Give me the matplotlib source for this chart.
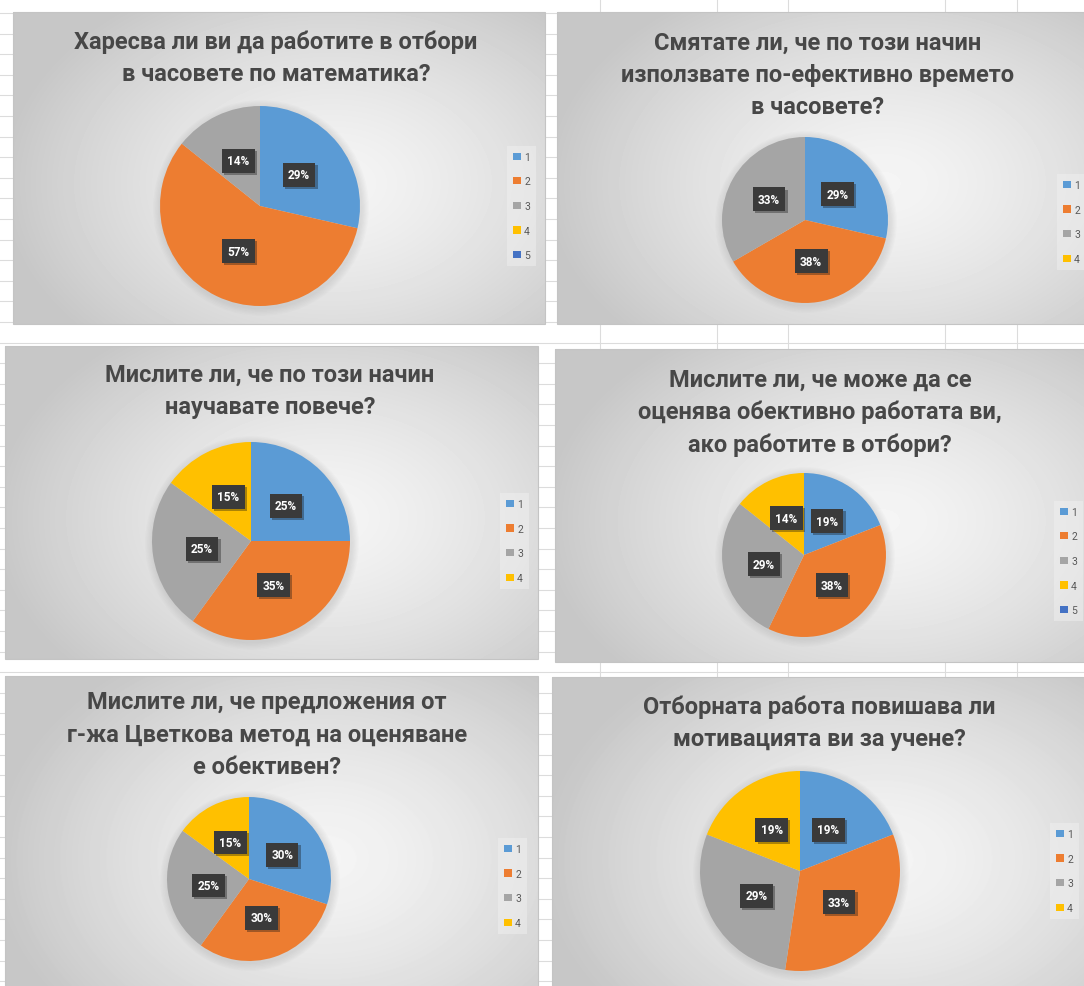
# -*- coding: utf-8 -*-
"""Six Excel-style pie charts with survey results (team work in maths lessons)."""
import numpy as np
import matplotlib
matplotlib.use("Agg")
import matplotlib.pyplot as plt
import matplotlib.patheffects as pe
from matplotlib.patches import Rectangle, Circle

W, H = 1084, 987
plt.rcParams['font.family'] = ['Roboto', 'DejaVu Sans']

### Data: number of answers per option
titles = [
    "Харесва ли ви да работите в отбори\nв часовете по математика?",
    "Смятате ли, че по този начин\nизползвате по-ефективно времето\nв часовете?",
    "Мислите ли, че по този начин\nнаучавате повече?",
    "Мислите ли, че може да се\nоценява обективно работата ви,\nако работите в отбори?",
    "Мислите ли, че предложения от\nг-жа Цветкова метод на оценяване\nе обективен?",
    "Отборната работа повишава ли\nмотивацията ви за учене?",
]
q1_counts = [6, 12, 3, 0, 0]
q2_counts = [6, 8, 7, 0]
q3_counts = [5, 7, 5, 3]
q4_counts = [4, 8, 6, 3, 0]
q5_counts = [6, 6, 5, 3]
q6_counts = [4, 7, 6, 4]
options = ["1", "2", "3", "4", "5"]

colors = ["#5B9BD5", "#ED7D31", "#A5A5A5", "#FFC000", "#4472C4"]
title_color = "#474747"

### Layout in screen pixels (x, y from top-left)
layout = [
    dict(box=(13, 13, 545, 325), pie=(260, 207, 100), title=(276, 42), leg=(507, 207)),
    dict(box=(557, 13, 1100, 325), pie=(805, 221, 83), title=(818, 43), leg=(1057, 223)),
    dict(box=(5, 347, 538, 660), pie=(251, 542, 99), title=(270, 375), leg=(500, 542)),
    dict(box=(555, 350, 1100, 663), pie=(804, 556, 82), title=(820, 380), leg=(1054, 562)),
    dict(box=(5, 677, 538, 1010), pie=(249, 880, 82), title=(267, 703), leg=(498, 887)),
    dict(box=(552, 678, 1100, 1010), pie=(800, 872, 100), title=(819, 707), leg=(1050, 872)),
]
all_counts = [q1_counts, q2_counts, q3_counts, q4_counts, q5_counts, q6_counts]


def fx(x):
    return x / W


def fy(y):
    return 1 - y / H


def gradient(w, h):
    xx, yy = np.meshgrid(np.linspace(0, 1, int(w)), np.linspace(0, 1, int(h)))
    d = np.sqrt(((xx - 0.6) / 0.62) ** 2 + ((yy - 0.55) / 0.72) ** 2)
    return 0.96 - 0.18 * np.clip(d, 0, 1) ** 1.4


def pct_label(p):
    return f"{p:.0f}%" if p > 0.5 else ""


fig = plt.figure(figsize=(W / 100, H / 100), dpi=100)
fig.patch.set_facecolor("white")

# spreadsheet grid behind the charts
bg = fig.add_axes([0, 0, 1, 1])
bg.set_axis_off()
for y in np.arange(14, H, 20.6):
    bg.axhline(y, color="#dcdcdc", lw=0.8, zorder=0)
for x in [600, 717, 788, 945, 1017]:
    bg.axvline(x, color="#dcdcdc", lw=0.8, zorder=0)

for spec, counts, title in zip(layout, all_counts, titles):
    x0, y0, x1, y1 = spec["box"]
    bg.imshow(gradient(x1 - x0, y1 - y0), cmap="gray", vmin=0, vmax=1,
              extent=(x0, x1, y1, y0), aspect="auto", zorder=1,
              interpolation="bilinear")
    bg.add_patch(Rectangle((x0, y0), x1 - x0, y1 - y0, fill=False,
                           ec="#c4c4c4", lw=0.8, zorder=2))
    cx, cy, r = spec["pie"]
    # soft shadow round the pie
    for k in range(1, 7):
        bg.add_patch(Circle((cx + 1, cy + 2), r + k * 1.3, color="#8a8a8a",
                            alpha=0.035, lw=0, zorder=2))

    # title lines
    tx, ty = spec["title"]
    for i, line in enumerate(title.split("\n")):
        fig.text(fx(tx), fy(ty + i * 32.5), line, ha="center", va="center",
                 fontsize=17, fontweight="bold", color=title_color)

    ax = fig.add_axes([fx(cx - r), fy(cy + r), 2 * r / W, 2 * r / H])
    wedges, texts, autotexts = ax.pie(
        counts, colors=colors[:len(counts)], startangle=90, counterclock=False,
        autopct=pct_label, pctdistance=0.5, radius=1,
        wedgeprops=dict(linewidth=0))
    ax.set_xlim(-1, 1)
    ax.set_ylim(-1, 1)
    for t in autotexts:
        if t.get_text():
            t.set_color("white")
            t.set_fontsize(8.5)
            t.set_fontweight("bold")
            t.set_bbox(dict(boxstyle="square,pad=0.45", fc="#3a3a3a", ec="none"))
            t.get_bbox_patch().set_path_effects(
                [pe.SimplePatchShadow(offset=(1.5, -1.5), alpha=0.35), pe.Normal()])

    lx, ly = spec["leg"]
    leg = ax.legend(wedges, options[:len(counts)], loc="center left",
                    bbox_to_anchor=(fx(lx), fy(ly)), bbox_transform=fig.transFigure,
                    fontsize=7.5, handlelength=0.7, handleheight=0.7,
                    handletextpad=0.35, labelspacing=1.4, borderpad=0.6,
                    borderaxespad=0, frameon=True, fancybox=False,
                    labelcolor="#595959")
    leg.get_frame().set_facecolor("#f2f2f2")
    leg.get_frame().set_edgecolor("none")
    leg.get_frame().set_alpha(0.45)

bg.set_xlim(0, W)
bg.set_ylim(H, 0)

fig.savefig("out.png", dpi=100)
